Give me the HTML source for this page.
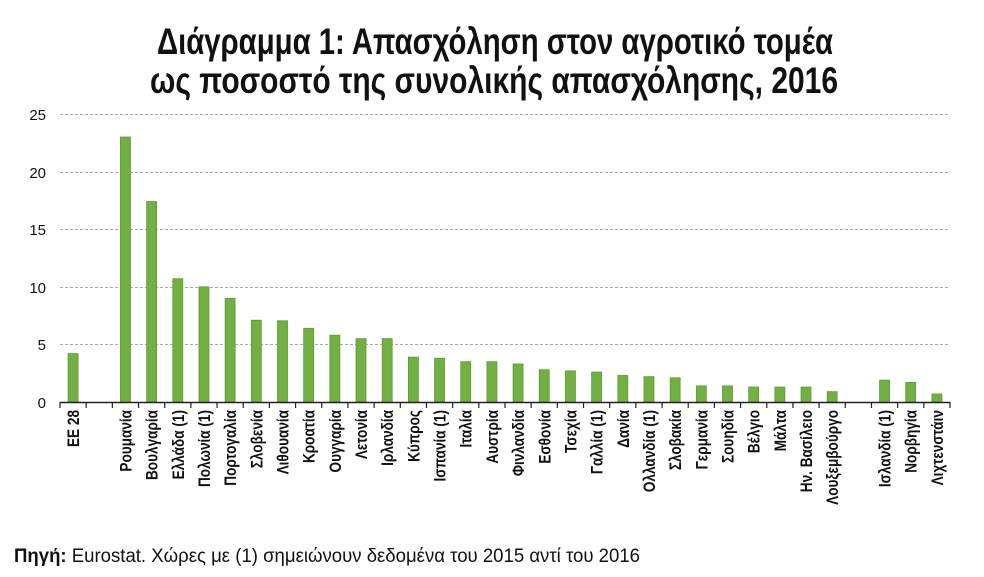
<!DOCTYPE html>
<html><head><meta charset="utf-8"><style>
html,body{margin:0;padding:0;background:#fff;}
svg{display:block;}
text{font-family:"Liberation Sans Narrow","Liberation Sans",sans-serif;}
</style></head><body>
<svg width="984" height="577" viewBox="0 0 984 577" xmlns="http://www.w3.org/2000/svg">
<g font-weight="bold" font-size="37" fill="#111">
<text x="157" y="54" textLength="676" lengthAdjust="spacingAndGlyphs">Διάγραμμα 1: Απασχόληση στον αγροτικό τομέα</text>
<text x="150" y="93" textLength="688" lengthAdjust="spacingAndGlyphs">ως ποσοστό της συνολικής απασχόλησης, 2016</text>
</g>
<g stroke="#aaa" stroke-dasharray="3,2" stroke-width="1">
<line x1="60" x2="950" y1="114.5" y2="114.5"/>
<line x1="60" x2="950" y1="172.5" y2="172.5"/>
<line x1="60" x2="950" y1="229.5" y2="229.5"/>
<line x1="60" x2="950" y1="287.5" y2="287.5"/>
<line x1="60" x2="950" y1="344.5" y2="344.5"/>
</g>
<g font-size="15" text-anchor="end" fill="#111">
<text x="46" y="120">25</text><text x="46" y="178">20</text><text x="46" y="235">15</text>
<text x="46" y="293">10</text><text x="46" y="350">5</text><text x="46" y="408">0</text>
</g>
<g id="bars" fill="#72b043" stroke="#5c9a35" stroke-width="0.8"></g>
<line x1="60" x2="950" y1="402.5" y2="402.5" stroke="#222" stroke-width="1.5"/>
<g id="ticks" stroke="#222" stroke-width="1.2"></g>
<g id="labels" font-size="17" font-weight="bold" fill="#111" text-anchor="end"></g>
<text x="14" y="562" font-size="19" fill="#111" textLength="626" lengthAdjust="spacingAndGlyphs"><tspan font-weight="bold">Πηγή:</tspan> Eurostat. Χώρες με (1) σημειώνουν δεδομένα του 2015 αντί του 2016</text>
</svg>
<script>
var d=[["ΕΕ 28",4.2],["",null],["Ρουμανία",23],["Βουλγαρία",17.4],["Ελλάδα (1)",10.7],["Πολωνία (1)",10],["Πορτογαλία",9],["Σλοβενία",7.1],["Λιθουανία",7.05],["Κροατία",6.4],["Ουγγαρία",5.8],["Λετονία",5.5],["Ιρλανδία",5.5],["Κύπρος",3.9],["Ισπανία (1)",3.8],["Ιταλία",3.5],["Αυστρία",3.5],["Φινλανδία",3.3],["Εσθονία",2.8],["Τσεχία",2.7],["Γαλλία (1)",2.6],["Δανία",2.3],["Ολλανδία (1)",2.2],["Σλοβακία",2.1],["Γερμανία",1.4],["Σουηδία",1.4],["Βέλγιο",1.3],["Μάλτα",1.3],["Ην. Βασίλειο",1.3],["Λουξεμβούργο",0.9],["",null],["Ισλανδία (1)",1.9],["Νορβηγία",1.7],["Λιχτενστάιν",0.7]];
var ns="http://www.w3.org/2000/svg",x0=60,w=890/34,y0=402,s=11.52;
var B=document.getElementById("bars"),T=document.getElementById("ticks"),L=document.getElementById("labels");
for(var i=0;i<=34;i++){var t=document.createElementNS(ns,"line");var x=x0+i*w;t.setAttribute("x1",x);t.setAttribute("x2",x);t.setAttribute("y1",402);t.setAttribute("y2",408);T.appendChild(t);}
d.forEach(function(e,i){var c=x0+(i+0.5)*w;if(e[1]!=null){var r=document.createElementNS(ns,"rect");r.setAttribute("x",c-5);r.setAttribute("width",10);r.setAttribute("y",y0-e[1]*s);r.setAttribute("height",e[1]*s);B.appendChild(r);}
if(e[0]){var tx=document.createElementNS(ns,"text");tx.setAttribute("transform","translate("+(c+6)+",410) rotate(-90) scale(0.8,1)");tx.textContent=e[0];L.appendChild(tx);}});
</script>
</body></html>
